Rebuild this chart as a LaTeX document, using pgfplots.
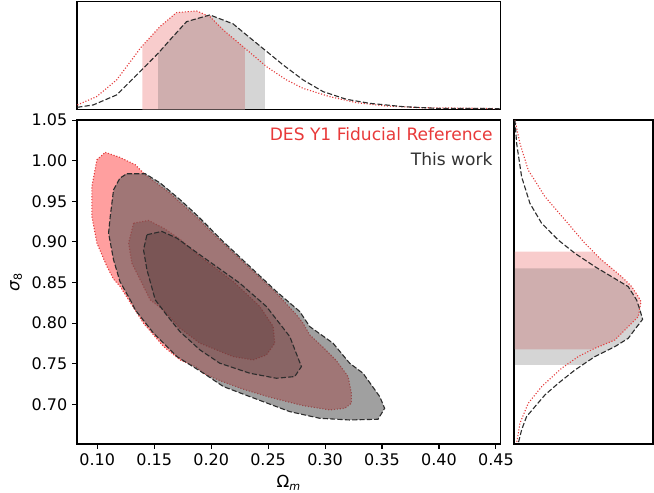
\documentclass[border=0pt]{standalone}
\usepackage{fontspec}
\setmainfont{DejaVu Sans}
\usepackage{pgfplots}
\pgfplotsset{compat=1.18}

\definecolor{redline}{RGB}{228,60,60}
\definecolor{blkline}{RGB}{45,45,45}
\definecolor{redout}{RGB}{255,159,159}
\definecolor{redin}{RGB}{216,118,118}
\definecolor{grayfill}{RGB}{86,86,86}
\definecolor{redband}{RGB}{248,204,204}
\definecolor{legred}{RGB}{232,58,58}
\definecolor{leggray}{RGB}{51,51,51}

\tikzset{
  blkdash/.style={draw=blkline, line width=0.8pt, dash pattern=on 3.7pt off 1.6pt},
  reddot/.style={draw=redline, line width=0.8pt, dash pattern=on 0.8pt off 1.3pt},
}

\begin{document}
\begin{tikzpicture}
\path[use as bounding box] (-55.44pt,-34.56pt) rectangle (415.44pt,319.68pt);

% ---------------- main panel ----------------
\begin{axis}[
  at={(0,0)}, anchor=south west, scale only axis,
  width=304.9pt, height=233.3pt,
  xmin=0.0822, xmax=0.454, ymin=0.651, ymax=1.0502,
  xtick={0.10,0.15,0.20,0.25,0.30,0.35,0.40,0.45},
  ytick={0.70,0.75,0.80,0.85,0.90,0.95,1.00,1.05},
  tick align=outside, xtick pos=bottom, ytick pos=left,
  major tick length=3.5pt,
  tick style={black, line width=0.8pt},
  axis line style={black, line width=0.8pt},
  /pgf/number format/fixed, /pgf/number format/fixed zerofill,
  /pgf/number format/precision=2, /pgf/number format/assume math mode=true,
  tick label style={font=\fontsize{11.5}{13}\selectfont},
  xlabel={Ω\textsubscript{\itshape m}},
  ylabel={\textit{σ}\textsubscript{8}},
  label style={font=\fontsize{12}{14}\selectfont},
  clip=true,
]
% red outer (95%)
\addplot[reddot, fill=redout] coordinates {
(0.1070,1.0103) (0.1199,1.0041) (0.1333,0.9951) (0.1421,0.9827) (0.1637,0.9601) (0.1871,0.9305) (0.1988,0.9141) (0.2135,0.8944) (0.2339,0.8677) (0.2573,0.8368) (0.2749,0.8101) (0.2807,0.7998) (0.2865,0.7855) (0.2982,0.7702) (0.3099,0.7538) (0.3202,0.7341) (0.3231,0.7135) (0.3231,0.7012) (0.3173,0.6950) (0.3041,0.6930) (0.2807,0.6983) (0.2515,0.7086) (0.2281,0.7185) (0.2076,0.7291) (0.1930,0.7382) (0.1871,0.7456) (0.1728,0.7546) (0.1582,0.7711) (0.1406,0.7998) (0.1260,0.8319) (0.1202,0.8450) (0.1143,0.8541) (0.1085,0.8697) (0.0997,0.8985) (0.0953,0.9314) (0.0953,0.9684) (0.0997,1.0012)
} -- cycle;
% red inner (68%)
\addplot[reddot, fill=redin] coordinates {
(0.1319,0.9231) (0.1450,0.9264) (0.1582,0.9170) (0.1725,0.9034) (0.1901,0.8820) (0.2193,0.8512) (0.2427,0.8204) (0.2544,0.7957) (0.2558,0.7752) (0.2485,0.7608) (0.2368,0.7546) (0.2193,0.7587) (0.1901,0.7752) (0.1725,0.7937) (0.1579,0.8163) (0.1465,0.8286) (0.1392,0.8492) (0.1304,0.8738) (0.1275,0.8985)
} -- cycle;
% black outer (95%)
\addplot[blkdash, fill=grayfill, fill opacity=0.56] coordinates {
(0.1260,0.9840) (0.1421,0.9840) (0.1553,0.9725) (0.1728,0.9519) (0.1886,0.9314) (0.2105,0.9005) (0.2339,0.8697) (0.2573,0.8389) (0.2778,0.8142) (0.2865,0.7957) (0.3070,0.7752) (0.3216,0.7505) (0.3333,0.7382) (0.3480,0.7094) (0.3523,0.6950) (0.3465,0.6815) (0.3216,0.6806) (0.2953,0.6827) (0.2690,0.6909) (0.2339,0.7094) (0.2108,0.7217) (0.1933,0.7382) (0.1699,0.7587) (0.1494,0.7875) (0.1333,0.8163) (0.1289,0.8286) (0.1199,0.8512) (0.1143,0.8779) (0.1099,0.9108) (0.1114,0.9314) (0.1143,0.9642) (0.1199,0.9786)
} -- cycle;
% black inner (68%)
\addplot[blkdash, fill=black, fill opacity=0.14] coordinates {
(0.1436,0.9088) (0.1567,0.9129) (0.1699,0.9046) (0.1901,0.8841) (0.2251,0.8492) (0.2485,0.8204) (0.2690,0.7834) (0.2792,0.7464) (0.2734,0.7341) (0.2573,0.7320) (0.2339,0.7382) (0.2076,0.7505) (0.1901,0.7670) (0.1725,0.7896) (0.1608,0.8101) (0.1509,0.8286) (0.1436,0.8656) (0.1406,0.8903)
} -- cycle;
\node[anchor=base east, text=legred, font=\fontsize{12.3}{14}\selectfont, inner sep=0pt] at (rel axis cs:0.982,0.938) {DES Y1 Fiducial Reference};
\node[anchor=base east, text=leggray, font=\fontsize{12.3}{14}\selectfont, inner sep=0pt] at (rel axis cs:0.982,0.858) {This work};
\end{axis}

% ---------------- top panel (Omega_m marginal) ----------------
\begin{axis}[
  at={(0,241pt)}, anchor=south west, scale only axis,
  width=304.9pt, height=77.5pt,
  xmin=0.0822, xmax=0.454, ymin=0, ymax=1.141,
  ticks=none,
  axis line style={black, line width=0.8pt},
]
\addplot[fill=redband, draw=none] coordinates {
(0.1395,0) (0.1395,0.670) (0.1550,0.876) (0.1696,1.025) (0.1872,1.042) (0.1989,0.982) (0.2106,0.841) (0.2296,0.647) (0.2296,0)
} -- cycle;
\addplot[fill=grayfill, fill opacity=0.25, draw=none] coordinates {
(0.1535,0) (0.1535,0.594) (0.1638,0.735) (0.1784,0.929) (0.1989,1.0) (0.2193,0.905) (0.2310,0.788) (0.2471,0.629) (0.2471,0)
} -- cycle;
\addplot[reddot] coordinates {
(0.0825,0.046) (0.0994,0.134) (0.1170,0.311) (0.1389,0.664) (0.1550,0.876) (0.1696,1.025) (0.1872,1.042) (0.1989,0.982) (0.2106,0.841) (0.2296,0.647) (0.2486,0.452) (0.2661,0.311) (0.2807,0.222) (0.3041,0.134) (0.3275,0.070) (0.3538,0.035) (0.3831,0.017) (0.4533,0.007)
};
\addplot[blkdash] coordinates {
(0.0825,0.021) (0.0965,0.046) (0.1170,0.152) (0.1375,0.399) (0.1535,0.594) (0.1638,0.735) (0.1784,0.929) (0.1989,1.0) (0.2193,0.905) (0.2310,0.788) (0.2471,0.629) (0.2632,0.470) (0.2807,0.311) (0.2983,0.187) (0.3187,0.106) (0.3392,0.063) (0.3684,0.028) (0.3977,0.010) (0.4533,0.007)
};
\end{axis}

% ---------------- right panel (sigma_8 marginal) ----------------
\begin{axis}[
  at={(314.6pt,0)}, anchor=south west, scale only axis,
  width=100.1pt, height=233.3pt,
  xmin=-0.008, xmax=1.081, ymin=0.651, ymax=1.0502,
  ticks=none,
  axis line style={black, line width=0.8pt},
]
\addplot[fill=redband, draw=none] coordinates {
(0,0.888) (0.61,0.888) (0.679,0.8777) (0.835,0.8572) (0.914,0.8449) (0.966,0.8326) (0.987,0.8264) (0.966,0.8079) (0.914,0.7997) (0.783,0.7792) (0.626,0.7689) (0.61,0.7677) (0,0.7677)
} -- cycle;
\addplot[fill=grayfill, fill opacity=0.25, draw=none] coordinates {
(0,0.8674) (0.645,0.8674) (0.757,0.8572) (0.887,0.8449) (0.953,0.8284) (0.979,0.8161) (1.0,0.8046) (0.966,0.7977) (0.887,0.7812) (0.783,0.7710) (0.626,0.7587) (0.53,0.7484) (0,0.7484)
} -- cycle;
\addplot[reddot] coordinates {
(0,1.0501) (0.039,1.0214) (0.104,0.9885) (0.235,0.9557) (0.392,0.9270) (0.548,0.8982) (0.679,0.8777) (0.835,0.8572) (0.914,0.8449) (0.966,0.8326) (0.987,0.8264) (0.966,0.8079) (0.914,0.7997) (0.783,0.7792) (0.626,0.7689) (0.496,0.7587) (0.365,0.7443) (0.209,0.7217) (0.104,0.7012) (0.039,0.6766) (0.013,0.6519)
};
\addplot[blkdash] coordinates {
(0.0,1.0501) (0.013,1.0214) (0.052,0.9803) (0.117,0.9475) (0.209,0.9229) (0.339,0.9023) (0.470,0.8859) (0.626,0.8695) (0.757,0.8572) (0.887,0.8449) (0.953,0.8284) (0.979,0.8161) (1.0,0.8046) (0.966,0.7977) (0.887,0.7812) (0.783,0.7710) (0.626,0.7587) (0.470,0.7422) (0.339,0.7258) (0.235,0.7115) (0.157,0.6971) (0.091,0.6848) (0.052,0.6684) (0.026,0.6519)
};
\end{axis}
\end{tikzpicture}
\end{document}
